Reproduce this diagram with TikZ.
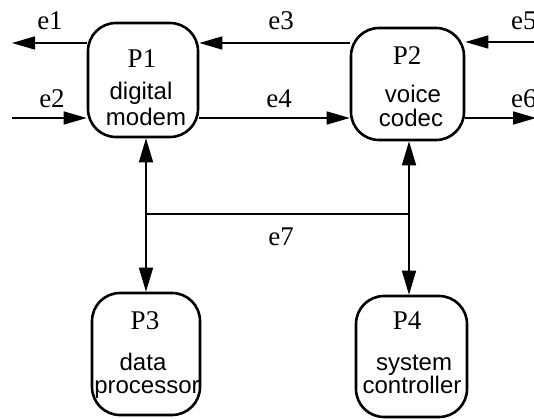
\documentclass[tikz,border=0pt]{standalone}
\usepackage{fontspec}
\setmainfont{Liberation Serif}
\setsansfont{Liberation Sans}
\usetikzlibrary{arrows.meta}

\tikzset{
  proc/.style={draw, line width=2.6pt, rounded corners=28pt, inner sep=0pt},
  flow/.style={line width=1.5pt, -{Triangle[length=23pt,width=13pt]}},
  biflow/.style={line width=1.5pt, {Triangle[length=24pt,width=14pt]}-{Triangle[length=24pt,width=14pt]}},
  bus/.style={line width=1.5pt},
  pname/.style={anchor=base, inner sep=0pt, font=\fontsize{27}{27}\selectfont},
  pdesc/.style={anchor=base, inner sep=0pt, font=\sffamily\fontsize{24}{24}\selectfont},
  elabel/.style={anchor=base, inner sep=0pt, font=\fontsize{27}{27}\selectfont}
}

\begin{document}
\begin{tikzpicture}[x=1pt, y=-1pt]
  \useasboundingbox (0,0) rectangle (534,419);

  % processes
  \node[proc, minimum width=110pt, minimum height=114pt] (P1) at (143,80) {};
  \node[proc, minimum width=113pt, minimum height=112pt] (P2) at (407.5,84) {};
  \node[proc, minimum width=108pt, minimum height=122pt] (P3) at (146,354) {};
  \node[proc, minimum width=111pt, minimum height=121pt] (P4) at (411.5,356.5) {};

  % process texts
  \node[pname] (P1n) at (142,68) {P1};
  \node[pdesc] (P1a) at (141,100) {digital};
  \node[pdesc] (P1b) at (146,126) {modem};
  \node[pname] (P2n) at (407,65) {P2};
  \node[pdesc] (P2a) at (413,103) {voice};
  \node[pdesc] (P2b) at (411,127) {codec};
  \node[pname] (P3n) at (145,329) {P3};
  \node[pdesc] (P3a) at (143,370) {data};
  \node[pdesc] (P3b) at (147,393) {processor};
  \node[pname] (P4n) at (407,329) {P4};
  \node[pdesc] (P4a) at (414,370) {system};
  \node[pdesc] (P4b) at (412,393) {controller};

  % free ends of the external flows
  \coordinate (x1) at (12,43);
  \coordinate (x2) at (12,118);
  \coordinate (x5) at (536,42);
  \coordinate (x6) at (536,118);
  \coordinate (busL) at (146,214);
  \coordinate (busR) at (409,214);

  % flows
  \draw[flow] (P1.west |- x1) -- (x1);
  \draw[flow] (P2.west |- x1) -- (P1.east |- x1);
  \draw[flow] (x5) -- (P2.east |- x5);
  \draw[flow] (x2) -- (P1.west |- x2);
  \draw[flow] (P1.east |- x2) -- (P2.west |- x2);
  \draw[flow] (P2.east |- x6) -- (x6);

  % shared link
  \draw[biflow] (P1.south -| busL) -- (P3.north -| busL);
  \draw[biflow] (P2.south -| busR) -- (P4.north -| busR);
  \draw[bus] (busL) -- (busR);

  % flow labels
  \node[elabel] (e1) at (50,30) {e1};
  \node[elabel] (e2) at (52,108) {e2};
  \node[elabel] (e3) at (281,30) {e3};
  \node[elabel] (e4) at (279,108) {e4};
  \node[elabel, anchor=base west] (e5) at (511,30) {e5};
  \node[elabel, anchor=base west] (e6) at (511,108) {e6};
  \node[elabel] (e7) at (281,245) {e7};
\end{tikzpicture}
\end{document}
